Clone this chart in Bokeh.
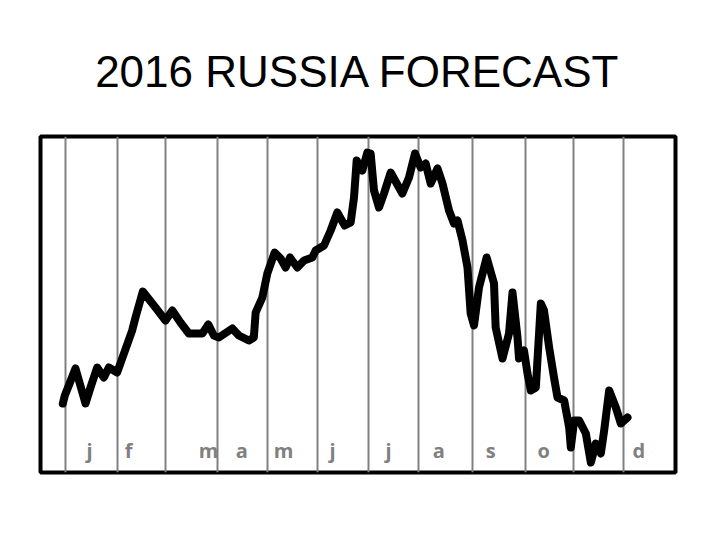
from bokeh.plotting import figure
from bokeh.models import Range1d, Grid, FixedTicker, Title, ColumnDataSource
from bokeh.core.properties import value
from bokeh.embed import file_html
from bokeh.resources import INLINE

# day-of-year positions (2016) and index values
days = [-1.6, -0.4, 6.0, 12.0, 15.0, 19.0, 23.0, 26.0, 29.0, 31.0,
        40.0, 42.0, 46.4, 54.0, 60.0, 64.1, 69.0, 74.0, 82.1, 85.7,
        89.0, 92.0, 100.1, 104.0, 110.0, 113.0, 114.1, 118.1, 121.1, 125.5,
        129.1, 132.1, 134.7, 139.1, 143.1, 148.1, 150.1, 155.1, 159.1, 163.1,
        167.5, 171.1, 173.1, 174.7, 178.1, 181.1, 183.1, 185.1, 188.1, 191.1,
        195.1, 202.1, 206.1, 209.7, 213.1, 216.1, 219.1, 223.2, 226.2, 230.1,
        233.1, 235.2, 238.2, 241.2, 243.1, 245.1, 248.1, 252.7, 257.1, 258.1,
        262.2, 266.1, 268.2, 271.2, 272.1, 275.1, 277.2, 279.2, 282.2, 285.2,
        287.1, 290.2, 293.1, 295.2, 299.2, 302.2, 303.2, 305.2, 308.2, 312.2,
        315.2, 318.2, 321.2, 323.2, 326.2, 330.2, 333.2, 337.2]
values = [69, 77, 104, 69, 85, 105, 95, 105, 102, 100,
          142, 155, 181, 165, 152, 162, 150, 139, 139, 148,
          137, 135, 144, 137, 132, 135, 160, 175, 199, 220,
          214, 205, 215, 205, 212, 215, 222, 227, 242, 260,
          247, 250, 275, 312, 302, 320, 319, 282, 265, 279,
          300, 279, 295, 319, 305, 309, 289, 304, 289, 262,
          249, 252, 232, 205, 159, 147, 185, 215, 189, 145,
          114, 139, 180, 135, 114, 122, 99, 82, 85, 169,
          162, 125, 95, 75, 72, 45, 25, 52, 52, 39,
          10, 29, 19, 42, 82, 65, 49, 55]

# month boundaries (day of year) and month labels
month_starts = [0, 31, 60, 91, 121, 151, 182, 212, 244, 276, 305, 335]
month_labels = ["j", "f", "m", "a", "m", "j", "j", "a", "s", "o", "d"]
label_days = [14.4, 37.8, 85.8, 105.7, 130.9, 160.3, 193.9, 223.9, 255.1, 286.9, 344.0]
label_level = [22] * len(month_labels)

p = figure(width=712, height=532, output_backend="svg", toolbar_location=None,
           x_axis_location=None, y_axis_location=None,
           x_range=Range1d(-15, 366), y_range=Range1d(0, 336),
           min_border_left=40, min_border_right=37,
           min_border_top=136, min_border_bottom=60)
p.title = Title(text="2016 RUSSIA FORECAST", text_font="Liberation Sans",
                text_font_size="44px", text_font_style="normal",
                text_color="#000000", align="center", standoff=82)
p.outline_line_color = "black"
p.outline_line_width = 4
p.background_fill_color = "white"
p.border_fill_color = "white"
for g in p.grid:
    g.visible = False

grid = Grid(dimension=0, ticker=FixedTicker(ticks=month_starts),
            grid_line_color="#808080", grid_line_width=2)
p.add_layout(grid)

p.line(days, values, line_color="black", line_width=8,
       line_join="round", line_cap="round")

src = ColumnDataSource(dict(x=label_days, y=label_level, t=month_labels))
p.text(x="x", y="y", text="t", source=src, text_font=value("Open Sans"),
       text_font_style="bold", text_font_size="20px", text_color="#808080",
       text_align="center", text_baseline="alphabetic")

open("out.html", "w").write(file_html(p, INLINE))
